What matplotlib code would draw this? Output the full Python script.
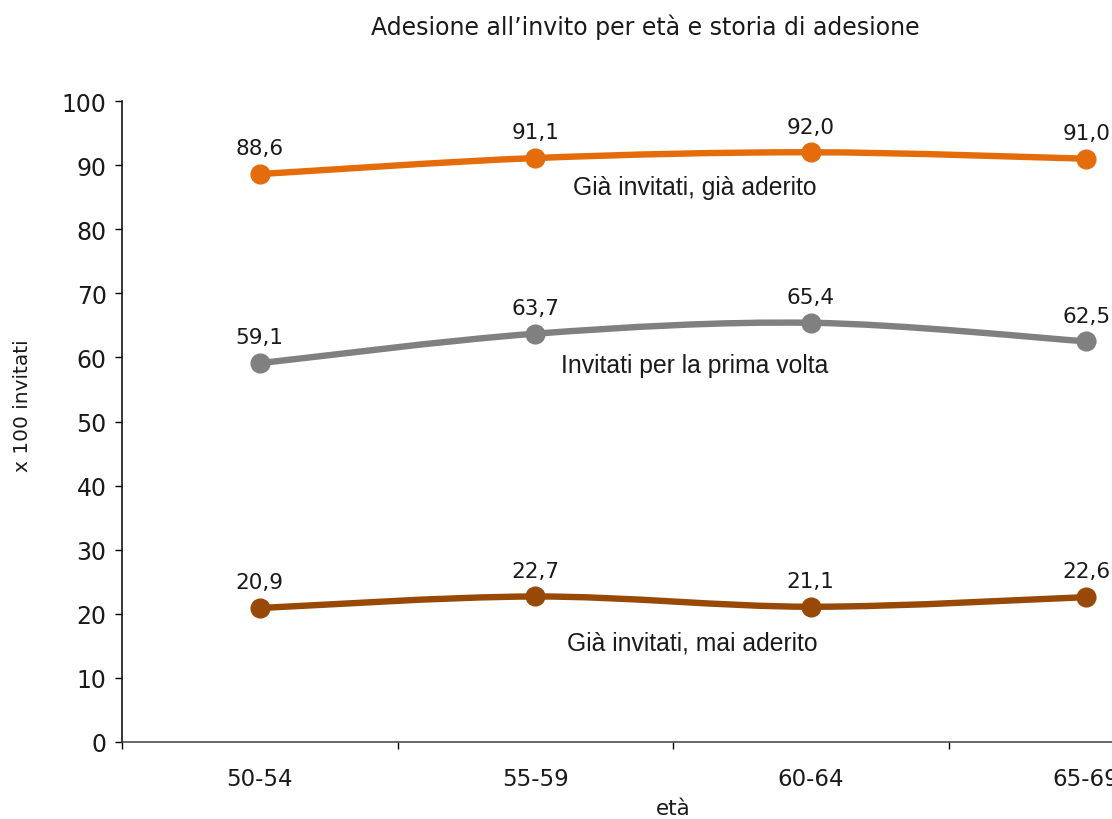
import numpy as np
import matplotlib
matplotlib.use("Agg")
import matplotlib.pyplot as plt
from matplotlib.path import Path
from matplotlib.patches import PathPatch

# data
eta = ["50-54", "55-59", "60-64", "65-69"]
gia_aderito = [88.6, 91.1, 92.0, 91.0]
prima_volta = [59.1, 63.7, 65.4, 62.5]
mai_aderito = [20.9, 22.7, 21.1, 22.6]

series_names = ["Già invitati, già aderito", "Invitati per la prima volta", "Già invitati, mai aderito"]
series_colors = ["#E46C0A", "#808080", "#984807"]


def smooth_path(xs, ys):
    # Excel-like smoothed line: cubic bezier through the points
    pts = np.column_stack([xs, ys]).astype(float)
    n = len(pts)
    verts = [pts[0]]
    codes = [Path.MOVETO]
    for i in range(n - 1):
        p0 = pts[i - 1] if i > 0 else pts[i]
        p1 = pts[i]
        p2 = pts[i + 1]
        p3 = pts[i + 2] if i + 2 < n else pts[i + 1]
        c1 = p1 + (p2 - p0) / 6.0
        c2 = p2 - (p3 - p1) / 6.0
        verts += [c1, c2, p2]
        codes += [Path.CURVE4] * 3
    return Path(verts, codes)


W, H = 1112, 820
fig = plt.figure(figsize=(W / 100, H / 100), dpi=100)
ax = fig.add_axes([122 / W, 77 / H, 1102 / W, 641 / H])

x = np.arange(len(eta))
all_series = [gia_aderito, prima_volta, mai_aderito]

for vals, color in zip(all_series, series_colors):
    ax.add_patch(PathPatch(smooth_path(x, vals), fill=False, edgecolor=color,
                           linewidth=4.6, capstyle="round", zorder=2))
    ax.plot(x, vals, linestyle="none", marker="o", markersize=13.5,
            color=color, zorder=3)
    for xi, v in zip(x, vals):
        ax.annotate(f"{v:.1f}".replace(".", ","), (xi, v), xytext=(0, 18.5),
                    textcoords="offset points", ha="center", va="center",
                    fontsize=15.5, color="#1a1a1a", family="DejaVu Sans",
                    annotation_clip=False)

# series labels inside the plot
label_pos = [(1.58, 86.6), (1.58, 58.8), (1.57, 15.6)]
for name, (lx, ly) in zip(series_names, label_pos):
    ax.text(lx, ly, name, ha="center", va="center", fontsize=17.8,
            family="Liberation Sans", color="#1a1a1a")

ax.set_xlim(-0.5, 3.5)
ax.set_ylim(0, 100)
ax.set_yticks(np.arange(0, 101, 10))
ax.set_xticks(x)
ax.set_xticklabels(eta)
ax.set_xticks(np.arange(-0.5, 3.6, 1.0), minor=True)
ax.tick_params(axis="x", which="major", length=0, pad=18, labelsize=16.5, labelcolor="#1a1a1a")
ax.tick_params(axis="x", which="minor", length=5, width=1, direction="out")
ax.tick_params(axis="y", length=5, width=1, direction="out", pad=6, labelsize=17, labelcolor="#1a1a1a")

for s in ["top", "right"]:
    ax.spines[s].set_visible(False)
ax.spines["left"].set_linewidth(1.1)
ax.spines["bottom"].set_linewidth(1.1)
ax.spines["bottom"].set_color("#404040")

ax.set_xlabel("età", fontsize=15.5, labelpad=6, color="#1a1a1a")
ax.set_ylabel("x 100 invitati", fontsize=14.5, family="DejaVu Sans", color="#1a1a1a")
ax.yaxis.set_label_coords(-0.0817, 0.526)

fig.text(645 / W, 1 - 27 / H, "Adesione all\u2019invito per età e storia di adesione",
         ha="center", va="center", fontsize=17, color="#1a1a1a")

fig.savefig("out.png", dpi=100)
